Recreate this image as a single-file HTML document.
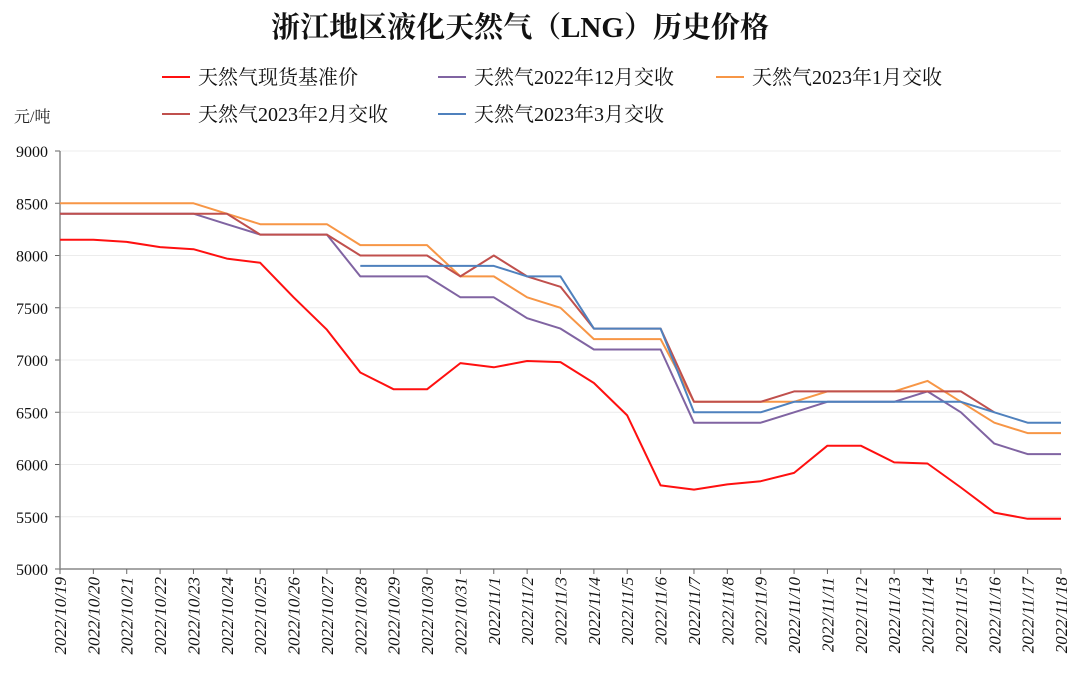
<!DOCTYPE html>
<html><head><meta charset="utf-8">
<style>
html,body{margin:0;padding:0;background:#fff;}
svg{display:block;font-family:"Liberation Serif","Noto Serif CJK SC",serif;}
</style></head>
<body>
<svg id="chart" width="1080" height="673" viewBox="0 0 1080 673">
<text x="520" y="37" text-anchor="middle" font-size="29" font-weight="bold" fill="#111">浙江地区液化天然气（LNG）历史价格</text>
<g id="legend"></g>
<text x="14" y="122" font-size="16" fill="#222">元/吨</text>
<g id="grid"></g><g id="axes"></g><g id="lines"></g>
</svg>
<script>
const categories=["2022/10/19","2022/10/20","2022/10/21","2022/10/22","2022/10/23","2022/10/24","2022/10/25","2022/10/26","2022/10/27","2022/10/28","2022/10/29","2022/10/30","2022/10/31","2022/11/1","2022/11/2","2022/11/3","2022/11/4","2022/11/5","2022/11/6","2022/11/7","2022/11/8","2022/11/9","2022/11/10","2022/11/11","2022/11/12","2022/11/13","2022/11/14","2022/11/15","2022/11/16","2022/11/17","2022/11/18"];
const yTicks=[5000,5500,6000,6500,7000,7500,8000,8500,9000];
const seriesNames=["天然气现货基准价","天然气2022年12月交收","天然气2023年1月交收","天然气2023年2月交收","天然气2023年3月交收"];
const spot=[8150,8150,8130,8080,8060,7970,7930,7600,7290,6880,6720,6720,6970,6930,6990,6980,6780,6470,5800,5760,5810,5840,5920,6180,6180,6020,6010,5780,5540,5480,5480];
const dec22=[8400,8400,8400,8400,8400,8300,8200,8200,8200,7800,7800,7800,7600,7600,7400,7300,7100,7100,7100,6400,6400,6400,6500,6600,6600,6600,6700,6500,6200,6100,6100];
const jan23=[8500,8500,8500,8500,8500,8400,8300,8300,8300,8100,8100,8100,7800,7800,7600,7500,7200,7200,7200,6600,6600,6600,6600,6700,6700,6700,6800,6600,6400,6300,6300];
const feb23=[8400,8400,8400,8400,8400,8400,8200,8200,8200,8000,8000,8000,7800,8000,7800,7700,7300,7300,7300,6600,6600,6600,6700,6700,6700,6700,6700,6700,6500,null,null];
const mar23=[null,null,null,null,null,null,null,null,null,7900,7900,7900,7900,7900,7800,7800,7300,7300,7300,6500,6500,6500,6600,6600,6600,6600,6600,6600,6500,6400,6400];
const colors=["#FF1010","#8064A2","#F79646","#C0504D","#4F81BD"];
const NS="http://www.w3.org/2000/svg";
const X0=60,X1=1061,Y0=569,Y1=151;
function xs(i){return X0+(X1-X0)*i/(categories.length-1);}
function ys(v){return Y0-(v-5000)/(9000-5000)*(Y0-Y1);}
function mk(tag,attrs,parent){const e=document.createElementNS(NS,tag);for(const k in attrs)e.setAttribute(k,attrs[k]);parent.appendChild(e);return e;}
const grid=document.getElementById('grid'),axes=document.getElementById('axes'),lines=document.getElementById('lines'),legend=document.getElementById('legend');
yTicks.forEach(v=>{
  const y=ys(v);
  if(v>5000){const g=mk('line',{x1:X0,x2:X1,y1:y,y2:y,stroke:'#ececec','stroke-width':1},grid);
  
  }
  const t=mk('line',{x1:X0-5,x2:X0,y1:y,y2:y,stroke:'#666'},axes);
  
  
  const l=mk('text',{x:X0-12,y:y+6,'text-anchor':'end','font-size':16,fill:'#111'},axes);l.textContent=v;
  
  
});
const ya=mk('line',{x1:X0,x2:X0,y1:Y1,y2:Y0,stroke:'#888','stroke-width':1.5},axes);


const xa=mk('line',{x1:X0,x2:X1,y1:Y0,y2:Y0,stroke:'#888','stroke-width':1.5},axes);


categories.forEach((c,i)=>{
  const x=xs(i);
  const t=mk('line',{x1:x,x2:x,y1:Y0,y2:Y0+5,stroke:'#666'},axes);
  
  
  const l=mk('text',{x:0,y:0,'text-anchor':'end','font-size':17,'font-style':'italic',fill:'#111',transform:`translate(${x+6},${Y0+8}) rotate(-90)`},axes);l.textContent=c;
  
  
});
[spot,dec22,jan23,feb23,mar23].forEach((s,k)=>{
  let d='',pen=false;
  s.forEach((v,i)=>{if(v==null){pen=false;return;}d+=(pen?'L':'M')+xs(i).toFixed(1)+','+ys(v).toFixed(1);pen=true;});
  const p=mk('path',{d:d,fill:'none',stroke:colors[k],'stroke-width':k==0?2:2,'stroke-linejoin':'round'},lines);
  
  
});
const legPos=[[162,77],[438,77],[716,77],[162,114],[438,114]];
seriesNames.forEach((n,k)=>{
  const [x,y]=legPos[k];
  const g=mk('g',{},legend);
  
  
  mk('line',{x1:x,x2:x+28,y1:y,y2:y,stroke:colors[k],'stroke-width':2},g);
  const t=mk('text',{x:x+36,y:y+7,'font-size':20,fill:'#111'},g);t.textContent=n;
});
</script>
</body></html>
